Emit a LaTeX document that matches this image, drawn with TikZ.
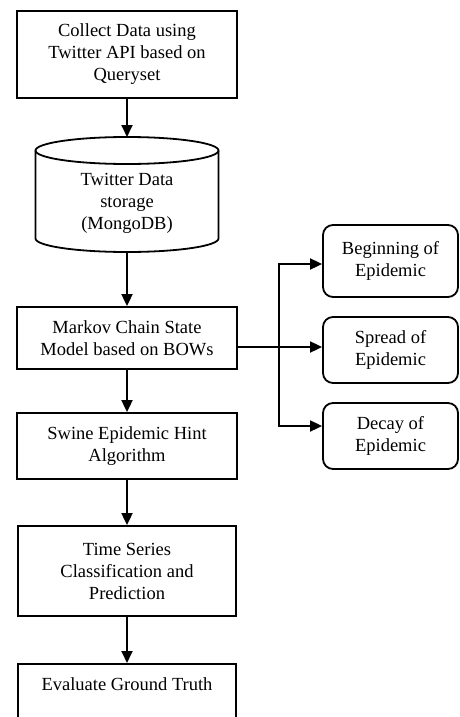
\documentclass[tikz,border=0pt]{standalone}
\usepackage{fontspec}
\setmainfont{Liberation Serif}
\usetikzlibrary{arrows.meta,calc}
\begin{document}
\begin{tikzpicture}[x=1pt,y=1pt,
  every node/.style={font=\fontsize{18.5}{22}\selectfont, align=center, inner sep=0pt},
  proc/.style={draw, line width=1.8pt, minimum width=220pt},
  statebox/.style={draw, line width=1.8pt, rounded corners=10pt, minimum width=135pt},
  conn/.style={line width=1.8pt},
  flow/.style={conn, -{Triangle[length=12pt,width=11pt]}}]
\useasboundingbox (0,0) rectangle (460,-717);
\clip (0,0) rectangle (460,-717);

% main column
\node[proc, minimum height=87pt] (b1) at (127,-54.5) {Collect Data using\\Twitter API based on\\Queryset};

\node (cyl) at (127,-203) {Twitter Data\\storage\\(MongoDB)};
\coordinate (cylN) at (127,-137);
\coordinate (cylS) at (127,-252);
\draw[conn] (127,-150.5) ellipse [x radius=91.5pt, y radius=13.5pt];
\draw[conn] (35.5,-150.5) -- (35.5,-238.5)
  arc[start angle=180, end angle=360, x radius=91.5pt, y radius=13.5pt] -- (218.5,-150.5);

\node[proc, minimum height=62pt] (b3) at (127,-338) {Markov Chain State\\Model based on BOWs};
\node[proc, minimum height=66pt] (b4) at (127,-446) {Swine Epidemic Hint\\Algorithm};
\node[proc, minimum width=218pt, minimum height=90pt] (b5) at (127,-571) {Time Series\\Classification and\\Prediction};
\node[proc, minimum width=218pt, minimum height=62pt, anchor=north] (b6) at (127,-663) {Evaluate Ground Truth\\\mbox{}};

% right column
\node[statebox, minimum height=72pt] (beg) at (390.5,-261) {Beginning of\\Epidemic};
\node[statebox, minimum height=66pt] (spr) at (390.5,-350) {Spread of\\Epidemic};
\node[statebox, minimum height=66pt] (dec) at (390.5,-436) {Decay of\\Epidemic};

% main connectors
\draw[flow] (b1.south) -- (cylN);
\draw[flow] (cylS) -- (b3.north);
\draw[flow] (b3.south) -- (b4.north);
\draw[flow] (b4.south) -- (b5.north);
\draw[flow] (b5.south) -- (b6.north);

% branch
\coordinate (bs) at ($(b3.east)+(0,-9)$);
\coordinate (jM) at (279,-347);
\coordinate (jT) at (279,-264);
\coordinate (jB) at (279,-426);
\draw[flow] (bs) -- (spr.west |- bs);
\draw[flow] (jM) |- (beg.west |- jT);
\draw[flow] (jM) |- (dec.west |- jB);
\end{tikzpicture}
\end{document}
